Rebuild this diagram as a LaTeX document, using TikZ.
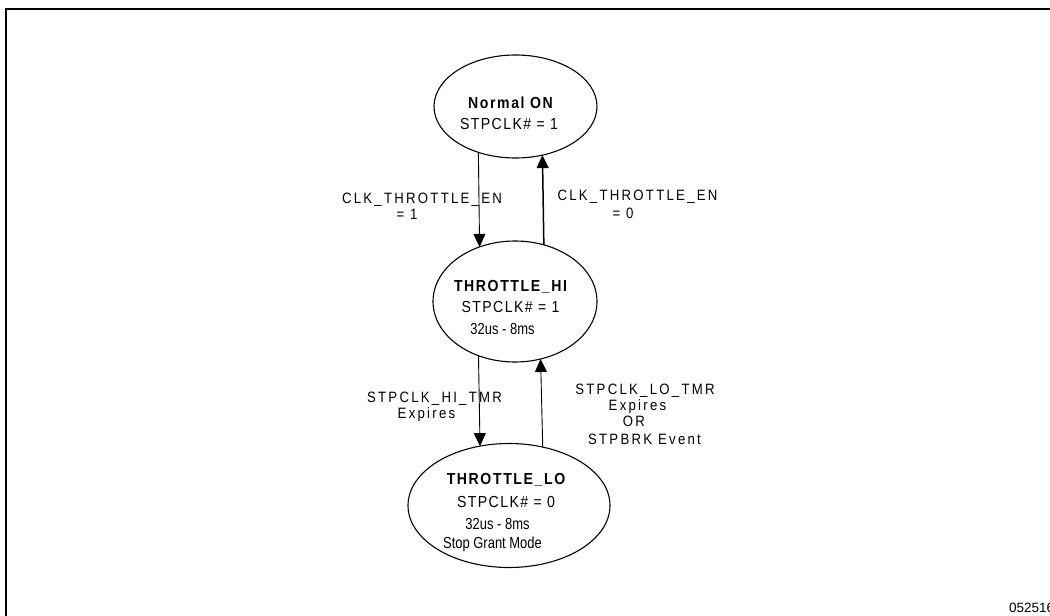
\documentclass[tikz,border=0pt]{standalone}
\usepackage{fontspec}
\setmainfont{Liberation Sans}
\newfontfamily\labfont[LetterSpace=15,FakeStretch=0.88]{Liberation Sans}
\newfontfamily\stfont[LetterSpace=9,FakeStretch=0.88]{Liberation Sans}
\newfontfamily\ttlfont[LetterSpace=10,FakeStretch=0.88]{Liberation Sans}
\newfontfamily\narrowfont[FakeStretch=0.81]{Liberation Sans}
\usetikzlibrary{arrows.meta,shapes.geometric}
\tikzset{
  state/.style={draw, ellipse, line width=1.1pt, inner sep=0pt, outer sep=0pt},
  lbl/.style={inner sep=0pt, anchor=base, font={\labfont\fontsize{15}{17}\selectfont}},
  inl/.style={inner sep=0pt, anchor=base, font={\stfont\fontsize{16}{18}\selectfont}},
  ttl/.style={inner sep=0pt, anchor=base, font={\ttlfont\bfseries\fontsize{16}{18}\selectfont}},
  small/.style={inner sep=0pt, anchor=base, font={\narrowfont\fontsize{16}{18}\selectfont}},
  arr/.style={-{Triangle[length=13pt,width=12pt]}, line width=0.9pt},
}
\begin{document}
\begin{tikzpicture}[x=1pt,y=-1pt]
\useasboundingbox (0,0) rectangle (1050,616);
\draw[line width=2pt] (6,620) -- (6,9) -- (1054,9);
\node[state, minimum width=163pt, minimum height=103pt] (on) at (515.5,106.5) {};
\node[state, minimum width=164pt, minimum height=121pt] (hi) at (515,301.5) {};
\node[state, minimum width=202pt, minimum height=124pt] (lo) at (509,505.5) {};
\node[ttl] (onA) at (510.5,108) {Normal ON};
\node[inl] (onB) at (509,129) {STPCLK\# = 1};
\node[ttl] (hiA) at (510.5,291) {THROTTLE\_HI};
\node[inl] (hiB) at (510.5,312) {STPCLK\# = 1};
\node[small] (hiC) at (502.5,334) {32us - 8ms};
\node[ttl] (loA) at (506,484) {THROTTLE\_LO};
\node[inl] (loB) at (506,507) {STPCLK\# = 0};
\node[small] (loC) at (497.5,529) {32us - 8ms};
\node[small] (loD) at (492.5,548) {Stop Grant Mode};
\node[lbl] (e1a) at (422,203) {CLK\_THROTTLE\_EN};
\node[lbl] (e1b) at (407,219) {= 1};
\node[lbl] (e2a) at (637.5,200) {CLK\_THROTTLE\_EN};
\node[lbl] (e2b) at (623,218) {= 0};
\node[lbl] (e3a) at (434.5,402) {STPCLK\_HI\_TMR};
\node[lbl] (e3b) at (426.5,418) {Expires};
\node[lbl] (e4a) at (645,394) {STPCLK\_LO\_TMR};
\node[lbl] (e4b) at (637.5,410.5) {Expires};
\node[lbl] (e4c) at (634,426.5) {OR};
\node[lbl] (e4d) at (644.5,444) {STPBRK Event};
\node[inner sep=0pt, anchor=base west, font={\fontsize{13.5}{15}\selectfont}] (code) at (1009,612) {052516};
\draw[arr] (on.231.6) -- (hi.123.5);
\draw[arr, line width=1.5pt] (hi.63.8) -- (on.299.6);
\draw[arr] (hi.236.5) -- (lo.116.05);
\draw[arr] (lo.60.6) -- (hi.294.4);
\end{tikzpicture}
\end{document}
